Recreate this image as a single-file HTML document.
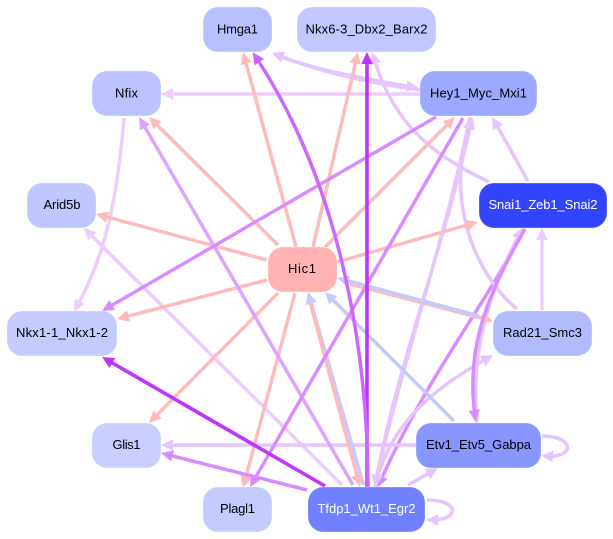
<!DOCTYPE html>
<html>
<head>
<meta charset="utf-8">
<style>
html,body{margin:0;padding:0;background:#fff;width:613px;height:539px;overflow:hidden}
svg{display:block}
text{font-family:"Liberation Sans",sans-serif;font-size:13px;text-anchor:middle;fill:#000}
path{fill:none;stroke-linecap:butt}
rect{stroke:#fff;stroke-opacity:.3;stroke-width:1}
.p{stroke:#ffbbbb;stroke-width:3.5;marker-end:url(#mp)}
.d{stroke:#bf33ff;stroke-width:3.6;marker-end:url(#md)}
.m{stroke:#cc66ff;stroke-width:3.5;marker-end:url(#mm)}
.v{stroke:#d98cff;stroke-width:3.5;marker-end:url(#mv)}
.w{stroke:#dda3ff;stroke-width:3.5;marker-end:url(#mw)}
.l{stroke:#e6c4ff;stroke-width:3.5;marker-end:url(#ml)}
.f{stroke:#efccff;stroke-width:3.5;marker-end:url(#mf)}
.b{stroke:#c3caff;stroke-width:3.5;marker-end:url(#mb)}
</style>
</head>
<body>
<svg xmlns="http://www.w3.org/2000/svg" width="613" height="539" viewBox="0 0 613 539">
<defs>
<marker id="mp" markerUnits="userSpaceOnUse" markerWidth="14" markerHeight="14" refX="6" refY="7" orient="auto"><polygon points="0,1.2 12,7 0,12.8" fill="#ffbbbb"/></marker>
<marker id="md" markerUnits="userSpaceOnUse" markerWidth="14" markerHeight="14" refX="6" refY="7" orient="auto"><polygon points="0,1.2 12,7 0,12.8" fill="#bf33ff"/></marker>
<marker id="mm" markerUnits="userSpaceOnUse" markerWidth="14" markerHeight="14" refX="6" refY="7" orient="auto"><polygon points="0,1.2 12,7 0,12.8" fill="#cc66ff"/></marker>
<marker id="mv" markerUnits="userSpaceOnUse" markerWidth="14" markerHeight="14" refX="6" refY="7" orient="auto"><polygon points="0,1.2 12,7 0,12.8" fill="#d98cff"/></marker>
<marker id="mw" markerUnits="userSpaceOnUse" markerWidth="14" markerHeight="14" refX="6" refY="7" orient="auto"><polygon points="0,1.2 12,7 0,12.8" fill="#dda3ff"/></marker>
<marker id="ml" markerUnits="userSpaceOnUse" markerWidth="14" markerHeight="14" refX="6" refY="7" orient="auto"><polygon points="0,1.2 12,7 0,12.8" fill="#e6c4ff"/></marker>
<marker id="mf" markerUnits="userSpaceOnUse" markerWidth="14" markerHeight="14" refX="6" refY="7" orient="auto"><polygon points="0,1.2 12,7 0,12.8" fill="#efccff"/></marker>
<marker id="mb" markerUnits="userSpaceOnUse" markerWidth="14" markerHeight="14" refX="6" refY="7" orient="auto"><polygon points="0,1.2 12,7 0,12.8" fill="#c3caff"/></marker>
</defs>

<path class="f" d="M124 118C118 190 108 250 77 306.5"/>
<path class="f" d="M342 485L88.2 232.2"/>
<path class="f" d="M420 94L167 94"/>
<path class="f" d="M542 310L542 234"/>

<path class="v" d="M523 229C490 300 430 370 380 482"/>
<path class="l" d="M420 90C370 83 320 72 277.5 55"/>
<path class="l" d="M278 56C320 71 370 80 412.5 87"/>
<path class="l" d="M489 182C440 158 395 130 374 58"/>
<path class="l" d="M528 181L495 122.2"/>
<path class="l" d="M517 309C470 270 445 190 471 123"/>
<path class="l" d="M375 487C395 370 450 230 470.5 123"/>
<path class="l" d="M470 117C445 240 400 370 376 481"/>
<path class="l" d="M375 487C390 420 440 385 488 358"/>
<path class="l" d="M477 423C470 350 490 290 520 233"/>
<path class="l" d="M416 445L167 445"/>
<path class="l" d="M408 485L432.8 471"/>
<path class="l" d="M542 436C575 436 575 458 547 456"/>
<path class="l" d="M427 500C460 500 460 520 432 520"/>

<path class="b" d="M454 421L329.2 296.2"/>
<path class="b" d="M363.5 485L309.6 297.8"/>

<path class="p" d="M296 247L244.6 57.8"/>
<path class="p" d="M313 247L356.6 57.8"/>
<path class="p" d="M325 247L450.8 121.2"/>
<path class="p" d="M337 262L472.2 223.6"/>
<path class="p" d="M350 284L487.2 319.5"/>
<path class="b" d="M479 316L343 279.5"/>
<path class="p" d="M310 302L358.5 481.2"/>
<path class="p" d="M278 245L153.3 121.2"/>
<path class="p" d="M267 260L101.8 215.6"/>
<path class="p" d="M267 280L122.8 317.5"/>
<path class="p" d="M278 293L153.2 418.7"/>
<path class="p" d="M295 293L244.5 482.2"/>

<path class="w" d="M353 485L142 122.2"/>
<path class="v" d="M436 117L107.2 308"/>
<path class="v" d="M463 118L253 481.8"/>
<path class="v" d="M525 229C490 290 465 345 475 416"/>
<path class="v" d="M307 490L166.8 454.5"/>
<path class="d" d="M367 487L367 58"/>
<path class="m" d="M368 487C368 380 350 200 256 57.2"/>
<path class="d" d="M325 486L107.2 360"/>

<rect x="203" y="7" width="69" height="45" rx="15" fill="#b8c0ff"/>
<text x="237.5" y="33.5" textLength="41">Hmga1</text>
<rect x="297" y="7" width="139" height="45" rx="15" fill="#c2c8ff"/>
<text x="366.5" y="33.5" textLength="122">Nkx6-3_Dbx2_Barx2</text>
<rect x="420" y="71" width="117" height="45" rx="15" fill="#9da8ff"/>
<text x="478.5" y="97.5" textLength="97">Hey1_Myc_Mxi1</text>
<rect x="92" y="71" width="69" height="45" rx="15" fill="#bbc2ff"/>
<text x="126.5" y="97.5" textLength="23">Nfix</text>
<rect x="479" y="183" width="128" height="45" rx="15" fill="#3344ff"/>
<text x="543" y="209" textLength="109" style="fill:#fff">Snai1_Zeb1_Snai2</text>
<rect x="27" y="183" width="69" height="45" rx="15" fill="#c0c6ff"/>
<text x="62" y="209" textLength="37">Arid5b</text>
<rect x="268" y="247" width="69" height="45" rx="15" fill="#ffb3b3"/>
<text x="302" y="273" textLength="28">Hic1</text>
<rect x="7" y="311" width="110" height="45" rx="15" fill="#c5cbff"/>
<text x="62" y="337" textLength="92">Nkx1-1_Nkx1-2</text>
<rect x="493" y="311" width="99" height="45" rx="15" fill="#b3bbff"/>
<text x="542.5" y="337" textLength="79">Rad21_Smc3</text>
<rect x="416" y="423" width="125" height="45" rx="15" fill="#8a96ff"/>
<text x="478.5" y="449" textLength="105">Etv1_Etv5_Gabpa</text>
<rect x="92" y="423" width="69" height="45" rx="15" fill="#c9ceff"/>
<text x="126.5" y="449" textLength="28">Glis1</text>
<rect x="203" y="487" width="69" height="45" rx="15" fill="#c5cbff"/>
<text x="237.5" y="513" textLength="35">Plagl1</text>
<rect x="308" y="487" width="117" height="45" rx="15" fill="#7080ff"/>
<text x="366.5" y="513" textLength="98" style="fill:#fff">Tfdp1_Wt1_Egr2</text>
</svg>
</body>
</html>
